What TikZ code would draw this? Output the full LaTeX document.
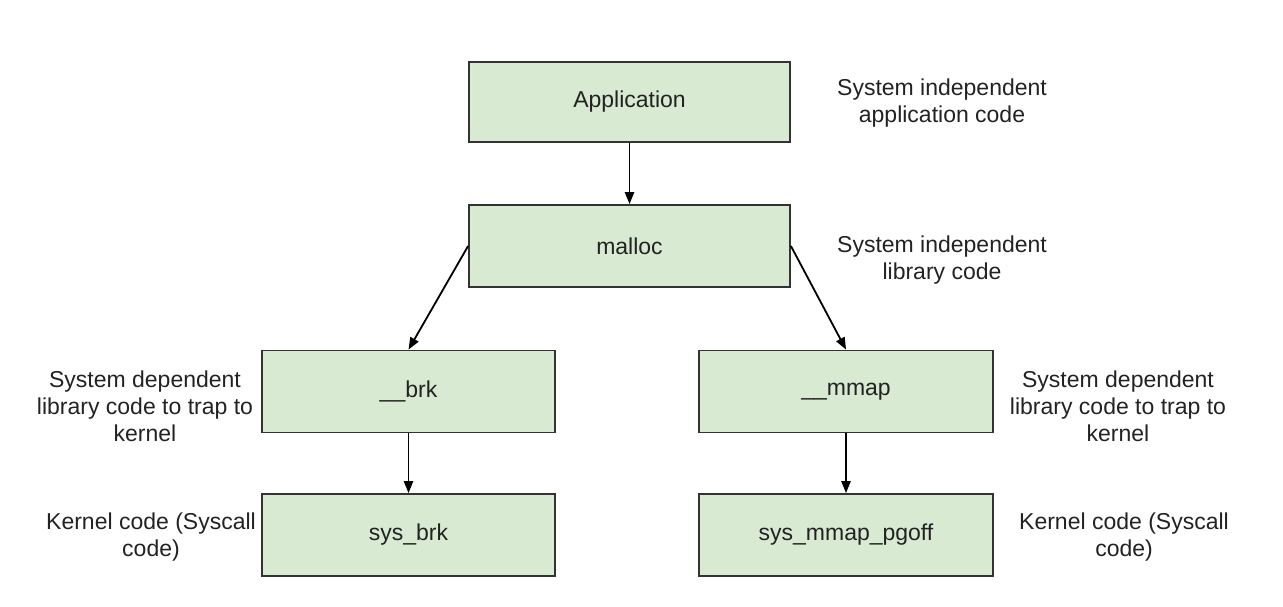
\documentclass[tikz,border=0pt]{standalone}
\usepackage{fontspec}
\setmainfont{Liberation Sans}
\usetikzlibrary{arrows.meta}
\definecolor{boxfill}{HTML}{D9EAD3}
\definecolor{boxline}{HTML}{333333}
\definecolor{txt}{HTML}{222222}
\begin{document}
\begin{tikzpicture}[x=0.5pt,y=-0.5pt,
  box/.style={draw=boxline, fill=boxfill, line width=0.9pt, inner sep=0pt,
    minimum width=#1, minimum height=41pt, text=txt,
    font=\fontsize{11.5}{13.5}\selectfont},
  box/.default=146.5pt,
  lbl/.style={align=center, text=txt, inner sep=0pt,
    font=\fontsize{11.5}{13.5}\selectfont},
  conn/.style={line width=0.9pt, draw=black, -{Triangle[length=6pt,width=4.6pt]}}]
\useasboundingbox (0,0) rectangle (1283,606);
\node[box=160.5pt, minimum height=40pt] (app) at (629.5,102) {\raisebox{-1pt}{Application}};
\node[box=160.5pt] (malloc) at (629.5,246) {\raisebox{-1pt}{malloc}};
\node[box=146.5pt] (brk) at (408.5,391.5) {\raisebox{-1pt}{\_\_brk}};
\node[box=147pt] (mmap) at (846,391.5) {\raisebox{-1pt}{\_\_mmap}};
\node[box=146.5pt] (sysbrk) at (408.5,535) {\raisebox{-1pt}{sys\_brk}};
\node[box=147pt] (sysmmap) at (846,535) {\raisebox{-1pt}{sys\_mmap\_pgoff}};
\node[lbl] (l1) at (942,103) {System independent\\application code};
\node[lbl] (l2) at (942,260.5) {System independent\\library code};
\node[lbl] (l3) at (145,406) {System dependent\\library code to trap to\\kernel};
\node[lbl] (l4) at (151,537.5) {Kernel code (Syscall\\code)};
\node[lbl] (l5) at (1118,406) {System dependent\\library code to trap to\\kernel};
\node[lbl] (l6) at (1124,537.5) {Kernel code (Syscall\\code)};
\draw[conn] (app.south) -- (malloc.north);
\draw[conn] (malloc.west) -- (brk.north);
\draw[conn] (malloc.east) -- (mmap.north);
\draw[conn] (brk.south) -- (sysbrk.north);
\draw[conn] (mmap.south) -- (sysmmap.north);
\end{tikzpicture}
\end{document}
